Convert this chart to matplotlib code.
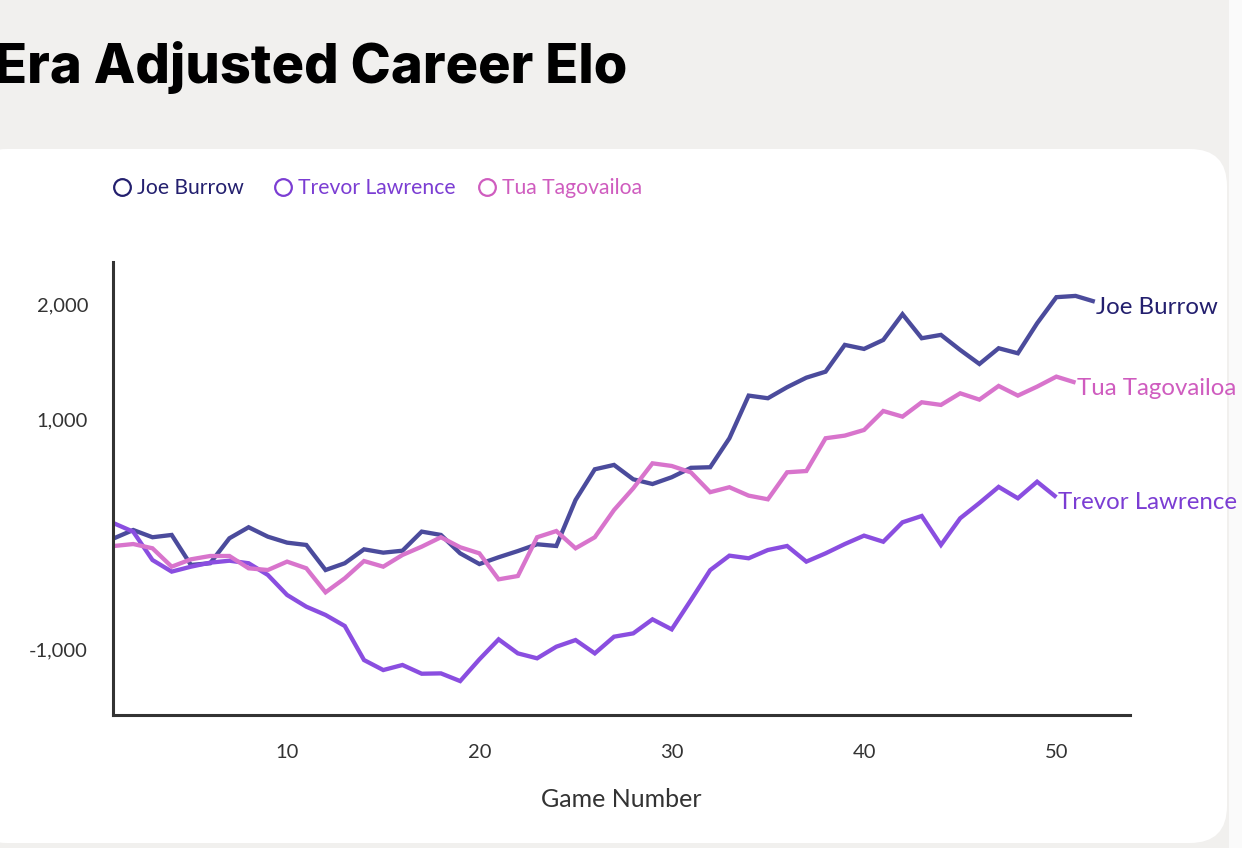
import matplotlib
matplotlib.use("Agg")
import matplotlib.pyplot as plt
from matplotlib.patches import FancyBboxPatch, Rectangle
from matplotlib.lines import Line2D

names = ["Joe Burrow", "Trevor Lawrence", "Tua Tagovailoa"]

joe_burrow = [-33, 39, -24, -4, -265, -250, -33, 63, -19, -71, -91, -309, -250, -129, -158,
              -141, 25, -4, -164, -257, -198, -144, -85, -100, 300, 567, 605, 480, 439, 498,
              580, 585, 837, 1208, 1185, 1281, 1364, 1416, 1649, 1614, 1692, 1916, 1707, 1736,
              1605, 1483, 1620, 1576, 1837, 2064, 2075, 2025]
trevor_lawrence = [97, 24, -222, -323, -280, -245, -228, -250, -352, -526, -628, -700, -796,
                   -1092, -1179, -1135, -1211, -1208, -1275, -1086, -912, -1034, -1077, -976,
                   -918, -1034, -889, -860, -738, -825, -570, -310, -184, -207, -135, -100,
                   -236, -164, -83, -10, -63, 106, 161, -91, 141, 274, 414, 315, 459, 324]
tua_tagovailoa = [-100, -83, -120, -280, -216, -187, -187, -294, -309, -236, -294, -503, -381,
                  -231, -280, -178, -106, -24, -111, -164, -390, -361, -24, 30, -120, -24, 213,
                  402, 619, 596, 540, 368, 411, 338, 306, 541, 552, 837, 860, 909, 1074, 1025,
                  1150, 1127, 1228, 1173, 1292, 1208, 1286, 1373, 1321]

x_ticks = [10, 20, 30, 40, 50]
y_ticks = [-1000, 1000, 2000]
y_tick_labels = ["-1,000", "1,000", "2,000"]

line_colors = ["#4b4b9c", "#8a4ee0", "#d874cc"]
text_colors = ["#231f6e", "#7b3dd3", "#cf5cbf"]

W, H = 1242, 848
fig = plt.figure(figsize=(W / 100, H / 100), dpi=100)
fig.patch.set_facecolor("#f1f0ee")

# white card
card = FancyBboxPatch((-30 / W, 1 - 843 / H), (1227 + 30) / W, (843 - 149) / H,
                      boxstyle="round,pad=0,rounding_size=0.03",
                      transform=fig.transFigure, facecolor="white", edgecolor="none",
                      mutation_aspect=W / H, zorder=-5)
fig.patches.append(card)
fig.patches.append(Rectangle((1229 / W, 0), (W - 1229) / W, 1, transform=fig.transFigure,
                             facecolor="#fafafa", edgecolor="none", zorder=-5))

fig.text(-6 / W, 1 - 67 / H, "Era Adjusted Career Elo", fontsize=39, fontweight="heavy",
         family=["Inter", "DejaVu Sans"], color="black", va="center", ha="left")

ax = fig.add_axes([113 / W, 1 - 715 / H, (1130 - 113) / W, (715 - 262) / H])
ax.set_facecolor("none")
ax.set_zorder(2)

series = [joe_burrow, trevor_lawrence, tua_tagovailoa]
label_font = ["Lato", "DejaVu Sans"]
for name, vals, lc, tc in zip(names, series, line_colors, text_colors):
    games = list(range(1, len(vals) + 1))
    ax.plot(games, vals, color=lc, lw=3.1, solid_joinstyle="miter", solid_capstyle="butt")
    ax.annotate(name, (games[-1], vals[-1]), xytext=(1, -4), textcoords="offset points",
                fontsize=17.3, color=tc, family=label_font, va="center", ha="left",
                annotation_clip=False)

ax.set_xlim(0.948, 53.83)
ax.set_ylim(-1570, 2370)
ax.set_xticks(x_ticks)
ax.set_yticks(y_ticks)
ax.set_yticklabels(y_tick_labels)
ax.tick_params(length=0, labelsize=14.5, labelcolor="#333333")
ax.tick_params(axis="y", pad=18)
ax.tick_params(axis="x", pad=21)
for lab in ax.get_xticklabels() + ax.get_yticklabels():
    lab.set_family(label_font)
ax.set_xlabel("Game Number", fontsize=18, color="#333333", family=label_font, labelpad=19)
for s in ["top", "right"]:
    ax.spines[s].set_visible(False)
for s in ["left", "bottom"]:
    ax.spines[s].set_color("#333333")
    ax.spines[s].set_linewidth(2.2)

# legend row
legend_text_x = [137, 298, 502]
for name, x0, tc in zip(names, legend_text_x, text_colors):
    fig.add_artist(Line2D([(x0 - 15) / W], [1 - 187 / H], marker="o", markersize=12,
                          markerfacecolor="none", markeredgecolor=tc, markeredgewidth=1.6,
                          transform=fig.transFigure, linestyle="none"))
    fig.text(x0 / W, 1 - 188 / H, name, fontsize=15.2, color=tc, family=label_font,
             va="center", ha="left")

fig.savefig("out.png", dpi=100, facecolor=fig.get_facecolor())
